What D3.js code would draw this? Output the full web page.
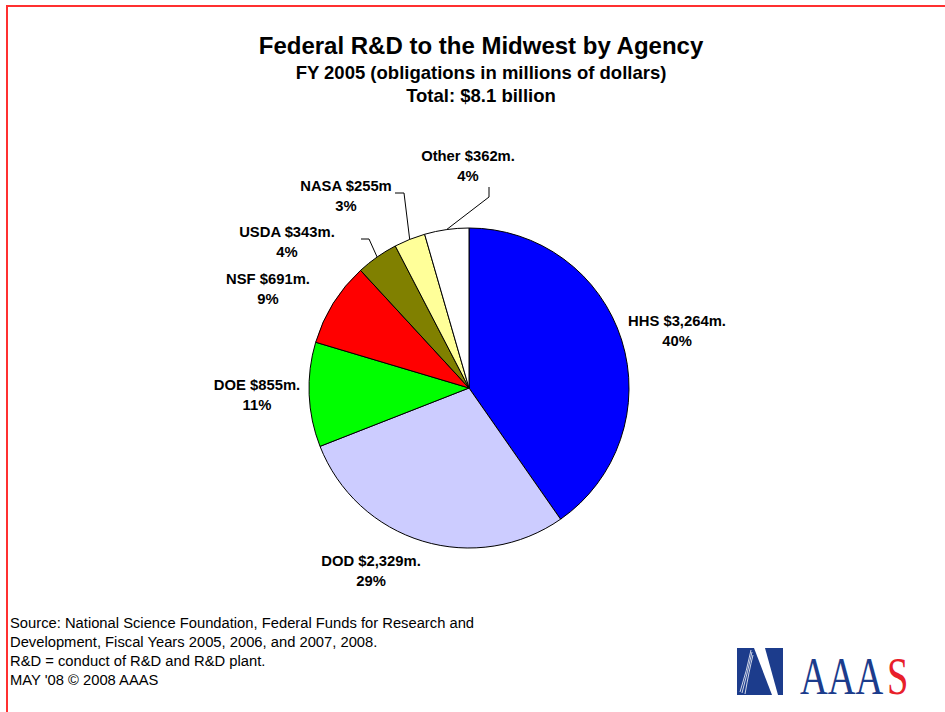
<!DOCTYPE html>
<html>
<head>
<meta charset="utf-8">
<script src="https://cdn.jsdelivr.net/npm/d3@7"></script>
<style>
body { margin: 0; background: #fff; }
text { font-family: "Liberation Sans", Arial, sans-serif; }
</style>
</head>
<body>
<div id="chart"></div>
<script>
var width = 945, height = 712;

// data
var agencies = ["HHS", "DOD", "DOE", "NSF", "USDA", "NASA", "Other"];
var amounts = [3264, 2329, 855, 691, 343, 255, 362];
var amountLabels = ["$3,264m.", "$2,329m.", "$855m.", "$691m.", "$343m.", "$255m", "$362m."];
var colors = ["#0000ff", "#ccccff", "#00ff00", "#ff0000", "#808000", "#ffff99", "#ffffff"];

// label layout, offsets from pie centre (first line baseline)
var labelPos = [[208, -62], [-98, 178], [-212, 2], [-201, -104], [-182, -151], [-123, -197], [-1, -227]];
// elbow of leader lines (only small slices), offsets from pie centre
var leaderElbow = [null, null, null, null, [[-108, -149], [-100, -149]], [[-74, -195], [-65, -195]], [[20, -201], [20, -191]]];

var cx = 469, cy = 388, radius = 160;

var svg = d3.select('#chart').append('svg')
	.attr("width", width)
	.attr("height", height);

svg.append("rect").attr("width", width).attr("height", height).attr("fill", "#fff");

// red frame (top and left)
svg.append("path")
	.attr("d", "M7," + height + "V6H" + width)
	.attr("fill", "none")
	.attr("stroke", "#ff3030")
	.attr("stroke-width", 2);

// titles
var titles = [
	{t: "Federal R&D to the Midwest by Agency", y: 54, s: 24},
	{t: "FY 2005 (obligations in millions of dollars)", y: 79, s: 18.5},
	{t: "Total: $8.1 billion", y: 102, s: 18.5}
];
svg.selectAll(".title").data(titles).enter().append("text")
	.attr("class", "title")
	.attr("x", 481)
	.attr("y", function(d){ return d.y; })
	.attr("text-anchor", "middle")
	.style("font-weight", "bold")
	.style("font-size", function(d){ return d.s + "px"; })
	.text(function(d){ return d.t; });

var total = d3.sum(amounts);
var pie = d3.pie().sort(null).value(function(d){ return d; });
var arcs = pie(amounts);
var arc = d3.arc().innerRadius(0).outerRadius(radius);

var g = svg.append("g").attr("transform", "translate(" + cx + "," + cy + ")");

g.selectAll("path.slice").data(arcs).enter().append("path")
	.attr("class", "slice")
	.attr("d", arc)
	.attr("fill", function(d, i){ return colors[i]; })
	.attr("stroke", "#000")
	.attr("stroke-width", 1);

// leader lines
arcs.forEach(function(d, i){
	if(!leaderElbow[i]) return;
	var a = (d.startAngle + d.endAngle) / 2;
	var p = [radius * Math.sin(a), -radius * Math.cos(a)];
	var pts = [p].concat(leaderElbow[i].slice().reverse());
	g.append("path")
		.attr("d", d3.line()(pts))
		.attr("fill", "none")
		.attr("stroke", "#000")
		.attr("stroke-width", 1);
});

// slice labels
var lbl = g.selectAll("text.lbl").data(arcs).enter().append("text")
	.attr("class", "lbl")
	.attr("text-anchor", "middle")
	.style("font-weight", "bold")
	.style("font-size", "14.8px");
lbl.append("tspan")
	.attr("x", function(d, i){ return labelPos[i][0]; })
	.attr("y", function(d, i){ return labelPos[i][1]; })
	.text(function(d, i){ return agencies[i] + " " + amountLabels[i]; });
lbl.append("tspan")
	.attr("x", function(d, i){ return labelPos[i][0]; })
	.attr("y", function(d, i){ return labelPos[i][1] + 19.5; })
	.text(function(d){ return Math.round(d.value / total * 100) + "%"; });

// footnote
var notes = [
	"Source: National Science Foundation, Federal Funds for Research and",
	"Development, Fiscal Years 2005, 2006, and 2007, 2008.",
	"R&D = conduct of R&D and R&D plant.",
	"MAY '08 \u00a9 2008 AAAS"
];
svg.selectAll(".note").data(notes).enter().append("text")
	.attr("class", "note")
	.attr("x", 10)
	.attr("y", function(d, i){ return 628 + i * 19; })
	.style("font-size", "14.75px")
	.text(function(d){ return d; });

// AAAS logo
var logo = svg.append("g").attr("transform", "translate(737,648)");
logo.append("path").attr("d", "M0,0H17L35,47H0Z").attr("fill", "#1c3c8c");
logo.append("path").attr("d", "M28,0H46V47H41Z").attr("fill", "#1c3c8c");
[[14, 2, 3, 44], [15, 4, 5, 45], [16, 7, 8, 46]].forEach(function(l){
	logo.append("path")
		.attr("d", "M" + l[0] + "," + l[1] + "Q" + (l[0] - 4) + "," + (l[3] / 2) + " " + l[2] + "," + l[3])
		.attr("fill", "none").attr("stroke", "#fff").attr("stroke-width", 0.8);
});
svg.append("g").attr("transform", "translate(800,694) scale(0.74,1)")
	.append("text")
	.attr("fill", "#1c3c8c")
	.style("font-family", "'Liberation Serif', 'Times New Roman', serif")
	.style("font-size", "52px")
	.text("AAA");
svg.append("g").attr("transform", "translate(887,694) scale(0.74,1)")
	.append("text")
	.attr("fill", "#e8202a")
	.style("font-family", "'Liberation Serif', 'Times New Roman', serif")
	.style("font-size", "52px")
	.text("S");
</script>
</body>
</html>
